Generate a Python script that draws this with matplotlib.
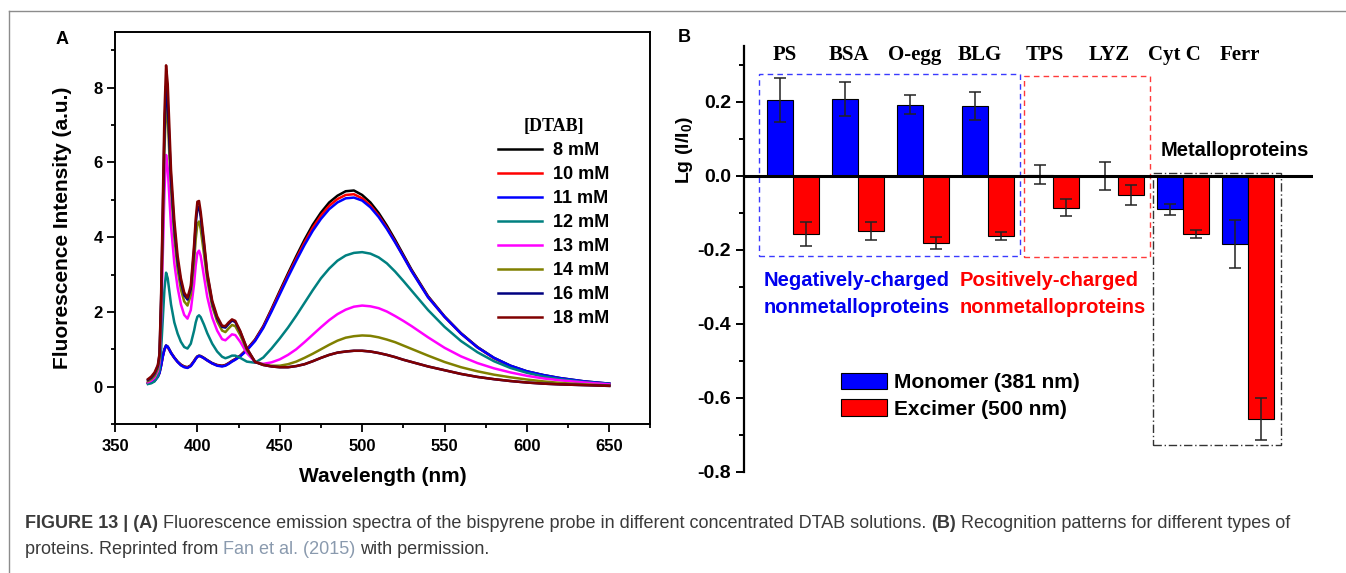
import matplotlib
matplotlib.use("Agg")
import numpy as np
import matplotlib.pyplot as plt
import matplotlib.transforms as mtransforms
from matplotlib.patches import Rectangle
from matplotlib.lines import Line2D
from matplotlib.ticker import MultipleLocator, FormatStrFormatter

plt.rcParams["font.family"] = "Liberation Sans"
plt.rcParams["axes.unicode_minus"] = False
plt.rcParams["mathtext.fontset"] = "custom"
plt.rcParams["mathtext.bf"] = "Liberation Sans:bold"
plt.rcParams["mathtext.rm"] = "Liberation Sans"

# ---- panel A: emission spectra ----
wl = [370, 372, 374, 376, 377, 378, 379, 380, 381, 382, 383, 384, 386, 388, 390,
      392, 394, 396, 398, 399, 400, 401, 402, 404, 406, 409, 412, 415, 417, 419,
      421, 423, 426, 430, 435, 440, 445, 450, 455, 460, 465, 470, 475, 480, 485,
      490, 495, 500, 505, 510, 515, 520, 525, 530, 540, 550, 560, 570, 580, 590,
      600, 610, 620, 635, 650]

i8 = [0.10, 0.12, 0.17, 0.28, 0.38, 0.58, 0.82, 1.00, 1.10, 1.07, 0.99, 0.91, 0.78, 0.67, 0.59,
      0.54, 0.52, 0.57, 0.69, 0.76, 0.81, 0.83, 0.82, 0.77, 0.71, 0.63, 0.58, 0.56, 0.58, 0.63,
      0.69, 0.74, 0.83, 1.00, 1.26, 1.62, 2.08, 2.56, 3.03, 3.49, 3.93, 4.33, 4.66, 4.93, 5.11,
      5.23, 5.25, 5.13, 4.93, 4.65, 4.31, 3.93, 3.53, 3.13, 2.42, 1.88, 1.43, 1.06, 0.77, 0.56,
      0.41, 0.31, 0.23, 0.14, 0.08]
i10 = [0.09, 0.12, 0.16, 0.27, 0.37, 0.57, 0.81, 0.99, 1.09, 1.06, 0.98, 0.90, 0.77, 0.66, 0.58,
       0.53, 0.51, 0.56, 0.68, 0.75, 0.80, 0.82, 0.81, 0.76, 0.70, 0.62, 0.57, 0.55, 0.57, 0.62,
       0.68, 0.73, 0.82, 0.99, 1.24, 1.60, 2.05, 2.52, 2.98, 3.43, 3.86, 4.25, 4.58, 4.84, 5.02,
       5.13, 5.15, 5.04, 4.85, 4.58, 4.25, 3.88, 3.49, 3.10, 2.40, 1.87, 1.42, 1.05, 0.76, 0.55,
       0.40, 0.30, 0.22, 0.13, 0.07]
i11 = [0.08, 0.11, 0.15, 0.26, 0.36, 0.56, 0.80, 0.99, 1.10, 1.07, 0.99, 0.90, 0.77, 0.66, 0.57,
       0.52, 0.50, 0.55, 0.67, 0.74, 0.80, 0.82, 0.81, 0.76, 0.70, 0.62, 0.56, 0.54, 0.56, 0.61,
       0.67, 0.72, 0.81, 0.97, 1.22, 1.57, 2.01, 2.47, 2.93, 3.37, 3.79, 4.17, 4.49, 4.75, 4.93,
       5.04, 5.06, 4.98, 4.80, 4.54, 4.22, 3.86, 3.48, 3.09, 2.39, 1.87, 1.42, 1.05, 0.77, 0.56,
       0.41, 0.31, 0.23, 0.14, 0.08]
i12 = [0.07, 0.09, 0.14, 0.28, 0.45, 1.00, 1.80, 2.60, 3.05, 2.90, 2.55, 2.20, 1.72, 1.42, 1.20,
       1.06, 1.02, 1.15, 1.50, 1.72, 1.87, 1.91, 1.86, 1.66, 1.43, 1.15, 0.94, 0.80, 0.76, 0.79,
       0.83, 0.83, 0.77, 0.67, 0.64, 0.78, 1.02, 1.29, 1.58, 1.90, 2.24, 2.58, 2.90, 3.16, 3.37,
       3.51, 3.58, 3.60, 3.56, 3.46, 3.30, 3.08, 2.83, 2.57, 2.05, 1.60, 1.22, 0.92, 0.68, 0.50,
       0.37, 0.27, 0.20, 0.12, 0.07]
i13 = [0.12, 0.16, 0.24, 0.42, 0.65, 1.80, 3.50, 5.20, 6.20, 5.85, 5.05, 4.30, 3.30, 2.65, 2.20,
       1.92, 1.82, 2.05, 2.75, 3.25, 3.58, 3.64, 3.50, 2.95, 2.40, 1.85, 1.50, 1.27, 1.24, 1.32,
       1.40, 1.38, 1.20, 0.90, 0.66, 0.61, 0.65, 0.73, 0.85, 1.00, 1.19, 1.39, 1.59, 1.78, 1.94,
       2.06, 2.14, 2.17, 2.15, 2.10, 2.01, 1.89, 1.76, 1.62, 1.32, 1.04, 0.81, 0.63, 0.49, 0.38,
       0.29, 0.22, 0.17, 0.11, 0.06]
i14 = [0.15, 0.20, 0.29, 0.48, 0.75, 2.10, 4.20, 6.30, 7.60, 7.20, 6.20, 5.30, 4.00, 3.15, 2.60,
       2.28, 2.17, 2.45, 3.35, 3.95, 4.35, 4.42, 4.22, 3.55, 2.85, 2.15, 1.75, 1.50, 1.46, 1.56,
       1.65, 1.62, 1.38, 0.98, 0.67, 0.59, 0.56, 0.56, 0.60, 0.67, 0.77, 0.88, 1.00, 1.12, 1.23,
       1.31, 1.35, 1.37, 1.36, 1.32, 1.26, 1.19, 1.10, 1.01, 0.83, 0.66, 0.52, 0.41, 0.32, 0.25,
       0.19, 0.14, 0.10, 0.06, 0.03]
i16 = [0.18, 0.24, 0.35, 0.55, 0.85, 2.35, 4.60, 6.80, 8.05, 7.60, 6.55, 5.55, 4.25, 3.35, 2.80,
       2.45, 2.33, 2.62, 3.65, 4.35, 4.78, 4.82, 4.55, 3.80, 3.00, 2.25, 1.83, 1.60, 1.58, 1.68,
       1.77, 1.73, 1.47, 1.02, 0.66, 0.58, 0.54, 0.52, 0.52, 0.55, 0.60, 0.68, 0.77, 0.85, 0.91,
       0.94, 0.96, 0.96, 0.94, 0.90, 0.85, 0.79, 0.72, 0.66, 0.54, 0.44, 0.34, 0.26, 0.20, 0.15,
       0.11, 0.08, 0.06, 0.04, 0.02]
i18 = [0.20, 0.27, 0.38, 0.58, 0.88, 2.50, 4.90, 7.30, 8.60, 8.10, 6.95, 5.80, 4.45, 3.50, 2.90,
       2.52, 2.38, 2.70, 3.80, 4.50, 4.95, 4.97, 4.68, 3.90, 3.05, 2.30, 1.88, 1.63, 1.62, 1.72,
       1.80, 1.76, 1.49, 1.03, 0.66, 0.58, 0.54, 0.52, 0.52, 0.55, 0.60, 0.68, 0.77, 0.85, 0.91,
       0.94, 0.96, 0.96, 0.94, 0.90, 0.85, 0.79, 0.72, 0.66, 0.54, 0.44, 0.34, 0.26, 0.20, 0.15,
       0.11, 0.08, 0.06, 0.04, 0.02]

conc_labels = ["8 mM", "10 mM", "11 mM", "12 mM", "13 mM", "14 mM", "16 mM", "18 mM"]
spectra = [i8, i10, i11, i12, i13, i14, i16, i18]
line_colors = ["#000000", "#ff0000", "#0000ff", "#008080", "#ff00ff", "#808000", "#000080", "#800000"]

# ---- panel B: recognition pattern ----
proteins = ["PS", "BSA", "O-egg", "BLG", "TPS", "LYZ", "Cyt C", "Ferr"]
monomer = [0.204, 0.206, 0.192, 0.188, 0.003, -0.001, -0.091, -0.185]
monomer_err = [0.059, 0.046, 0.026, 0.037, 0.026, 0.037, 0.015, 0.064]
excimer = [-0.158, -0.149, -0.181, -0.163, -0.086, -0.052, -0.158, -0.658]
excimer_err = [0.033, 0.025, 0.016, 0.011, 0.024, 0.027, 0.011, 0.057]

W, H = 1346, 573
fig = plt.figure(figsize=(W / 100, H / 100), dpi=100)


def px_axes(l, t, r, b):
    return fig.add_axes([l / W, 1 - b / H, (r - l) / W, (b - t) / H])


# frame of the figure page
fig.add_artist(Line2D([8.5 / W, 1], [1 - 10.5 / H] * 2, color="#8c8c8c", lw=1.0))
fig.add_artist(Line2D([8.5 / W] * 2, [0, 1 - 10.5 / H], color="#8c8c8c", lw=1.0))

# ================= A =================
axA = px_axes(115, 31.7, 650.5, 424)
for ys, lab, c in zip(spectra, conc_labels, line_colors):
    axA.plot(wl, ys, color=c, lw=1.8, label=lab)
axA.set_xlim(350, 675)
axA.set_ylim(-1, 9.5)
axA.set_xticks(range(350, 651, 50))
axA.xaxis.set_minor_locator(MultipleLocator(25))
axA.set_yticks([0, 2, 4, 6, 8])
axA.yaxis.set_minor_locator(MultipleLocator(1))
axA.tick_params(which="both", direction="out", top=False, right=False, width=1.3, labelsize=12)
axA.tick_params(which="major", length=5.5)
axA.tick_params(which="minor", length=3)
axA.tick_params(axis="x", pad=5.5)
for s in axA.spines.values():
    s.set_linewidth(1.4)
for t in axA.get_xticklabels() + axA.get_yticklabels():
    t.set_fontweight("bold")
axA.set_xlabel("Wavelength (nm)", fontsize=15, fontweight="bold", labelpad=9)
axA.set_ylabel("Fluorescence Intensity (a.u.)", fontsize=15, fontweight="bold", labelpad=15)

axA.legend(loc="upper left", bbox_to_anchor=((498 - 115) / 535.5, (424 - 118) / 392.3),
           frameon=False, borderpad=0, borderaxespad=0, handlelength=2.45,
           handletextpad=0.6, labelspacing=0.39,
           prop=dict(family="Liberation Sans", weight="bold", size=13),
           title="[DTAB]",
           title_fontproperties=dict(family="Liberation Serif", weight="bold", size=13))

fig.text(62 / W, 1 - 39 / H, "A", fontsize=13, fontweight="bold", ha="center", va="center")

# ================= B =================
axB = px_axes(744, 46.2, 1313, 471.7)
x = np.arange(1, len(proteins) + 1)
ekw = dict(ecolor="#222222", elinewidth=1.1, capthick=1.1)
b1 = axB.bar(x - 0.2, monomer, 0.4, color="#0000ff", edgecolor="black", lw=0.8,
             yerr=monomer_err, capsize=4, error_kw=ekw, label="Monomer (381 nm)")
b2 = axB.bar(x + 0.2, excimer, 0.4, color="#ff0000", edgecolor="black", lw=0.8,
             yerr=excimer_err, capsize=4, error_kw=ekw, label="Excimer (500 nm)")
axB.axhline(0, color="black", lw=2.2, zorder=4)
axB.set_xlim(0.25, 9.0)
axB.set_ylim(-0.8, 0.35)
for k in ["top", "right", "bottom"]:
    axB.spines[k].set_visible(False)
axB.spines["left"].set_linewidth(1.6)
axB.set_xticks([])
axB.yaxis.set_major_locator(MultipleLocator(0.2))
axB.yaxis.set_minor_locator(MultipleLocator(0.1))
axB.yaxis.set_major_formatter(FormatStrFormatter("%.1f"))
axB.tick_params(which="both", direction="out", width=1.4, labelsize=14)
axB.tick_params(which="major", length=6)
axB.tick_params(which="minor", length=3.5)
for t in axB.get_yticklabels():
    t.set_fontweight("bold")
axB.set_ylabel("Lg (I/I$_\\mathbf{0}$)", fontsize=14, fontweight="bold")
axB.yaxis.set_label_coords(-0.086, 0.756)

# group boxes
axB.add_patch(Rectangle((0.477, -0.217), 4.50 - 0.477, 0.275 + 0.217, fill=False,
                        edgecolor="#3a3aff", lw=1.0, ls=(0, (4, 3))))
axB.add_patch(Rectangle((4.56, -0.22), 6.49 - 4.56, 0.27 + 0.22, fill=False,
                        edgecolor="#ff3a3a", lw=1.0, ls=(0, (4, 3))))
axB.add_patch(Rectangle((6.54, -0.728), 8.51 - 6.54, 0.735, fill=False,
                        edgecolor="#333333", lw=1.0, ls=(0, (6, 2, 1, 2))))

for xi, name in zip(x, proteins):
    axB.text(xi - 0.13, 0.326, name, ha="center", va="center",
             family="Liberation Serif", fontweight="bold", fontsize=15)

axB.text(7.79, 0.069, "Metalloproteins", ha="center", va="center", fontsize=14.5, fontweight="bold")
axB.text(0.545, -0.282, "Negatively-charged", ha="left", va="center", fontsize=14.5,
         fontweight="bold", color="#0000ee")
axB.text(0.545, -0.355, "nonmetalloproteins", ha="left", va="center", fontsize=14.5,
         fontweight="bold", color="#0000ee")
axB.text(3.568, -0.282, "Positively-charged", ha="left", va="center", fontsize=14.5,
         fontweight="bold", color="#ff0000")
axB.text(3.568, -0.355, "nonmetalloproteins", ha="left", va="center", fontsize=14.5,
         fontweight="bold", color="#ff0000")

axB.legend(handles=[b1, b2], loc="upper left", bbox_to_anchor=(0.17, 0.232),
           frameon=False, borderpad=0, borderaxespad=0, handlelength=2.2,
           handleheight=0.82, handletextpad=0.36, labelspacing=0.34,
           prop=dict(weight="bold", size=15))

fig.text(684 / W, 1 - 38 / H, "B", fontsize=13, fontweight="bold", ha="center", va="center")

# ================= caption =================
cap_dark = "#3a3a3a"
cap_link = "#8a9aae"
line1 = [("FIGURE 13 | (A)", "bold", cap_dark),
         ("Fluorescence emission spectra of the bispyrene probe in different concentrated DTAB solutions.", "normal", cap_dark),
         ("(B)", "bold", cap_dark),
         ("Recognition patterns for different types of", "normal", cap_dark)]
line2 = [("proteins. Reprinted from", "normal", cap_dark),
         ("Fan et al. (2015)", "normal", cap_link),
         ("with permission.", "normal", cap_dark)]

renderer = fig.canvas.get_renderer()
ident = mtransforms.IdentityTransform()


def piece_widths(pieces, size):
    out = []
    for txt, wt, col in pieces:
        t = fig.text(0, 0, txt, transform=ident, fontsize=size, fontweight=wt)
        out.append(t.get_window_extent(renderer).width)
        t.remove()
    return out


def space_px(size):
    return 0.278 * size * 100 / 72


base = 12.0
wsum = sum(piece_widths(line1, base)) + space_px(base) * (len(line1) - 1)
cap_size = base * (1293 - 25) / wsum


def put_line(pieces, y_top, size):
    xpos = 25
    for (txt, wt, col), w in zip(pieces, piece_widths(pieces, size)):
        fig.text(xpos, H - y_top, txt, transform=ident, fontsize=size, fontweight=wt,
                 color=col, ha="left", va="center")
        xpos += w + space_px(size)


put_line(line1, 523, cap_size)
put_line(line2, 549, cap_size)

fig.savefig("out.png", dpi=100)
